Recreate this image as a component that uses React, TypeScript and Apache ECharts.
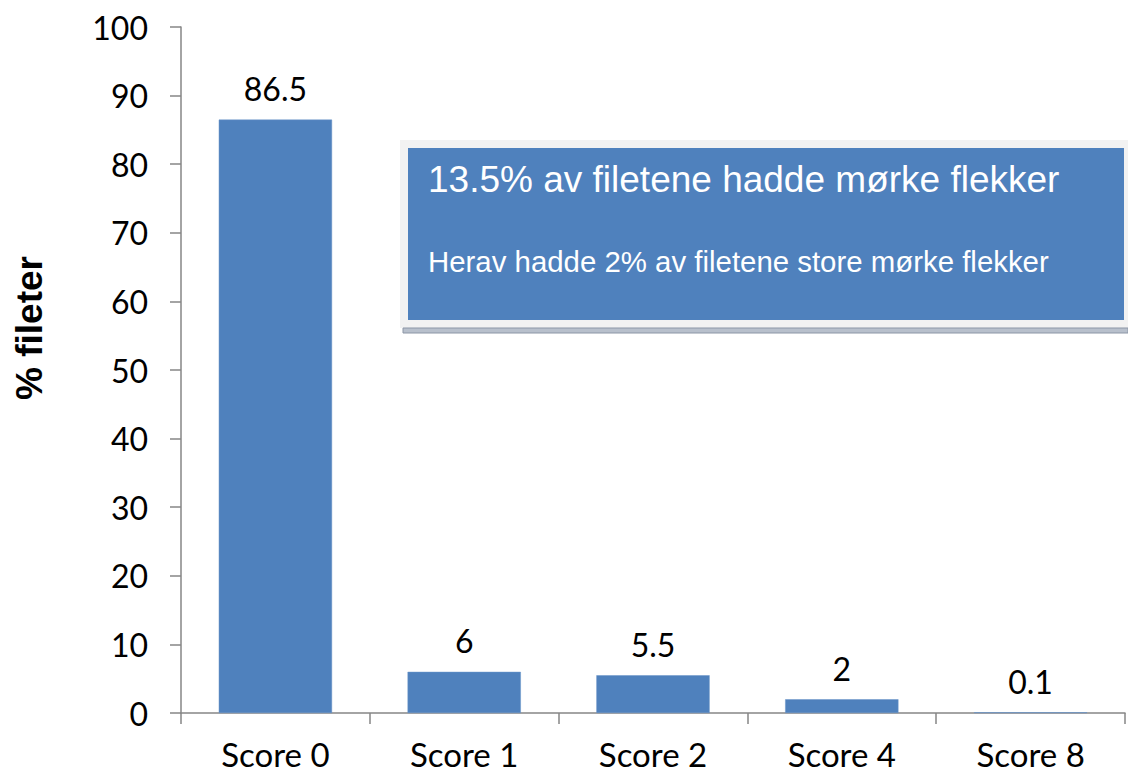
import React, { useEffect, useRef } from "react";
import * as echarts from "echarts";

const categories = ["Score 0", "Score 1", "Score 2", "Score 4", "Score 8"];
const values = [86.5, 6, 5.5, 2, 0.1];
const yAxisTitle = "% fileter";
const boxTitle = "13.5% av filetene hadde mørke flekker";
const boxSubtitle = "Herav hadde 2% av filetene store mørke flekker";

export default function App() {
  const ref = useRef<HTMLDivElement>(null);
  useEffect(() => {
    if (!ref.current) return;
    const chart = echarts.init(ref.current, null, { renderer: "svg" });
    const axisColor = "#868686";
    const tickFont = "Lato";
    chart.setOption({
      animation: false,
      backgroundColor: "#ffffff",
      grid: { left: 181, right: 3, top: 27, bottom: 62, containLabel: false },
      xAxis: {
        type: "category",
        data: categories,
        axisLine: { lineStyle: { color: axisColor, width: 1.5 } },
        axisTick: { show: true, length: 11, lineStyle: { color: axisColor, width: 1.5 } },
        axisLabel: { color: "#000", fontFamily: tickFont, fontSize: 33, lineHeight: 28, margin: 27 },
      },
      yAxis: {
        type: "value",
        min: 0,
        max: 100,
        interval: 10,
        axisLine: { show: true, lineStyle: { color: axisColor, width: 1.5 } },
        axisTick: { show: true, length: 11, lineStyle: { color: axisColor, width: 1.5 } },
        splitLine: { show: false },
        axisLabel: { color: "#000", fontFamily: tickFont, fontSize: 32, margin: 33 },
      },
      series: [
        {
          type: "bar",
          data: values,
          barWidth: "60%",
          itemStyle: { color: "#4f81bd", borderColor: "#6a95c8", borderWidth: 0.5 },
          label: {
            show: true,
            position: "top",
            distance: 15,
            color: "#000",
            fontFamily: tickFont,
            fontSize: 32,
          },
        },
      ],
      graphic: [
        {
          type: "text",
          x: 29,
          y: 328,
          rotation: Math.PI / 2,
          style: {
            text: yAxisTitle,
            fill: "#000",
            font: "bold 37px 'Liberation Sans'",
            align: "center",
            verticalAlign: "middle",
          },
        },
        { type: "rect", shape: { x: 400, y: 140, width: 728, height: 188 }, style: { fill: "#f2f2f2" }, z: 100 },
        { type: "rect", shape: { x: 403, y: 328, width: 725, height: 5 }, style: { fill: "#b8c0cc", stroke: "#8c96a6", lineWidth: 1 }, z: 100 },
        { type: "rect", shape: { x: 408, y: 148, width: 716, height: 172 }, style: { fill: "#4f81bd" }, z: 101 },
        {
          type: "text",
          x: 428,
          y: 179,
          z: 102,
          style: { text: boxTitle, fill: "#fff", font: "37px 'Liberation Sans'", verticalAlign: "middle", align: "left" },
        },
        {
          type: "text",
          x: 428,
          y: 261,
          z: 102,
          style: { text: boxSubtitle, fill: "#fff", font: "29.4px 'Liberation Sans'", verticalAlign: "middle", align: "left" },
        },
      ],
    });
    return () => chart.dispose();
  }, []);
  return (
    <div
      ref={ref}
      style={{ position: "fixed", left: 0, top: 0, width: 1128, height: 775 }}
    />
  );
}
